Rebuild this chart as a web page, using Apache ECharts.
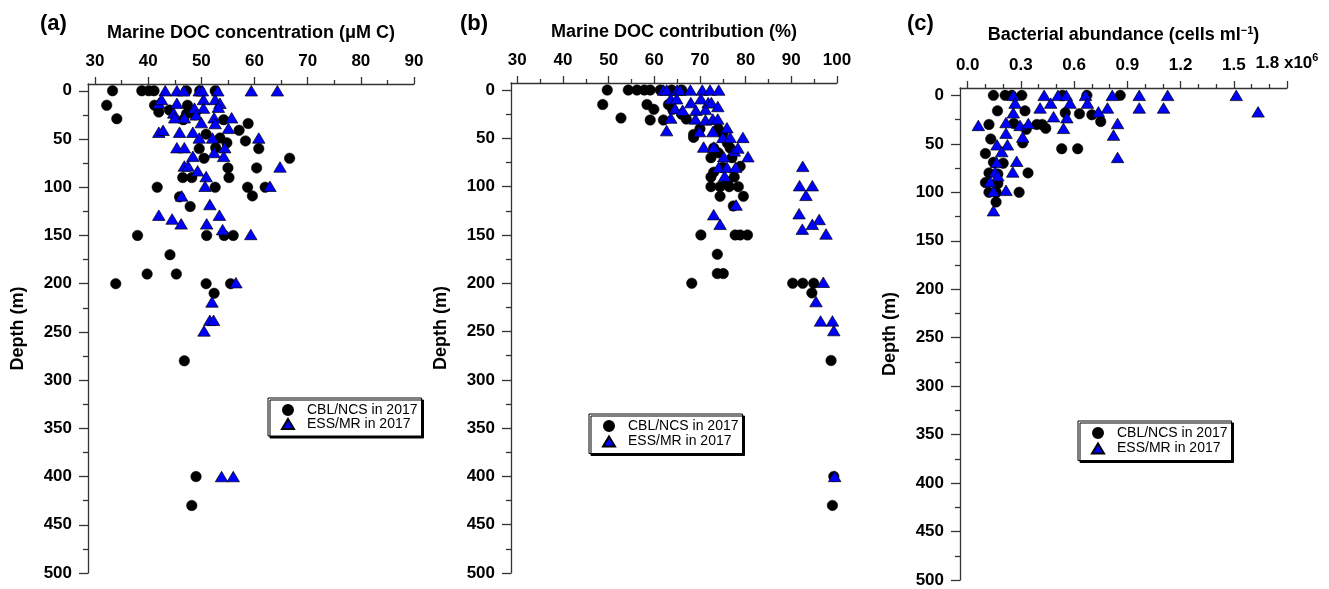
<!DOCTYPE html>
<html><head><meta charset="utf-8">
<script src="https://cdn.jsdelivr.net/npm/echarts@6/dist/echarts.min.js"></script>
<style>html,body{margin:0;padding:0;background:#fff}#c{width:1329px;height:589px}</style>
</head><body><div id="c"></div>
<script>
// ---------- DATA ----------
const seriesNames = ['CBL/NCS in 2017', 'ESS/MR in 2017'];
const panelLabels = ['(a)', '(b)', '(c)'];
const xTitles = ['Marine DOC concentration (\u03bcM C)', 'Marine DOC contribution (%)', 'Bacterial abundance (cells ml{s|\u22121})'];
const yTitle = 'Depth (m)';

const concTicks = [30, 40, 50, 60, 70, 80, 90];
const concMinor = [35, 45, 55, 65, 75, 85];
const contribTicks = [30, 40, 50, 60, 70, 80, 90, 100];
const contribMinor = [35, 45, 55, 65, 75, 85, 95];
const bactTicks = [0, 0.3, 0.6, 0.9, 1.2, 1.5, 1.8];
const bactMinor = [0.1, 0.2, 0.4, 0.5, 0.7, 0.8, 1.0, 1.1, 1.3, 1.4, 1.6, 1.7];
const depthTicks = [0, 50, 100, 150, 200, 250, 300, 350, 400, 450, 500];
const depthMinor = [25, 75, 125, 175, 225, 275, 325, 375, 425, 475];

// (a) Marine DOC concentration (uM C) vs depth (m)
const concCBL = [[33.3,0],[32.2,15],[34.1,29],[38.8,0],[40.1,0],[41.1,0],[47.2,0],[49.7,0],[52.6,0],[41.2,15],[42,22],[44,20],[47.4,15],[47.2,24],[48.8,25],[46.6,30],[54.2,30],[57.1,41],[58.8,34],[50.9,45],[53.5,49],[54.8,54],[58.3,52],[60.8,60],[49.6,60],[52.7,59],[50.5,70],[66.6,70],[60.4,80],[55,80],[55.2,90],[46.5,90],[48.2,90],[41.7,100],[52.6,100],[58.7,100],[62,100],[59.6,109],[45.9,110],[47.9,120],[38,150],[51,150],[54.3,150],[56,150],[44.1,170],[39.8,190],[45.3,190],[33.9,200],[50.9,200],[55.5,200],[52.4,210],[46.8,280],[49,400],[48.2,430]];
const concESS = [[43.2,0],[45.4,0],[46.7,0],[49.6,0],[50.2,0],[53.1,0],[59.4,0],[64.3,0],[42,13],[42.5,9],[45.4,13],[50.4,9],[52.6,9],[53.5,13],[50.4,18],[48.7,18],[53.2,17],[44.8,23],[46.8,28],[45,28],[49,25],[52.4,28],[50,33],[52.6,34],[55.7,28],[55.1,39],[42,43],[42.8,41],[45.9,43],[48.4,43],[49.6,49],[52.1,49],[60.8,49],[45.4,59],[46.8,59],[54.4,59],[52.4,64],[54.2,68],[48.4,68],[46.8,78],[47.5,78],[64.8,79],[49.3,83],[50.9,89],[50.7,99],[62.9,99],[46.3,109],[51.6,118],[42,129],[44.5,133],[46.2,138],[53.4,129],[51,138],[54,144],[59.3,149],[56.5,199],[52,219],[51.6,238],[52.3,238],[50.5,249],[53.8,400],[56,400]];

// (b) Marine DOC contribution (%) vs depth (m)
const contribCBL = [[49.7,0],[54.3,0],[56.2,0],[57.8,0],[59.1,0],[61.3,0],[63.8,0],[66,0],[48.7,15],[52.7,29],[58.4,15],[59.9,20],[59.1,31],[62,31],[63.1,15],[66,25],[64,20],[67,30],[68.6,46],[68.6,49],[70,40],[73,60],[72.4,70],[76.6,60],[74,40],[75,45],[76,55],[74,65],[77,70],[75,80],[73,85],[76,95],[78.8,79],[72.4,90],[77.5,90],[72.4,100],[74.4,100],[76.4,100],[78.4,100],[74.4,110],[79.5,110],[77.3,120],[70.2,150],[77.7,150],[78.8,150],[80.4,150],[73.8,170],[73.8,190],[75.1,190],[68.2,200],[90.3,200],[92.5,200],[94.9,200],[94.5,210],[98.7,280],[99.3,400],[99,430]];
const contribESS = [[62,0],[62.7,0],[65,0],[65.6,0],[67.9,0],[70.5,0],[72.2,0],[74.1,0],[63.6,9],[64.9,9],[68,13],[70.2,9],[71.8,13],[69.1,21],[71.2,20],[72.5,13],[73.9,17],[64.5,19],[66.2,21],[63.6,29],[62.7,42],[69,30],[69.9,43],[71.2,31],[72.8,30],[73.9,30],[72.8,43],[75.9,39],[75,49],[76.6,49],[79.4,49],[70.8,59],[73,59],[77.5,63],[78.3,60],[80.5,69],[75.2,69],[74.1,80],[75.9,80],[77.8,80],[75.4,89],[77.9,119],[73,129],[74.4,139],[92.5,79],[91.8,99],[94.6,99],[93.2,109],[91.7,128],[96.1,134],[94.6,139],[92.4,144],[97.6,149],[97,199],[95.4,219],[96.4,239],[99,239],[99.3,249],[99.5,400]];

// (c) Bacterial abundance (x10^6 cells/ml) vs depth (m)
const bactCBL = [[0.145,0],[0.211,0],[0.248,0],[0.305,0],[0.534,0],[0.672,0],[0.86,0],[0.168,16],[0.323,16],[0.55,18],[0.63,19],[0.70,20],[0.75,27],[0.12,30],[0.26,29],[0.39,30],[0.42,30],[0.44,34],[0.33,35],[0.13,45],[0.31,49],[0.53,55],[0.62,55],[0.10,60],[0.145,69],[0.2,70],[0.12,80],[0.17,81],[0.34,80],[0.10,90],[0.17,91],[0.12,100],[0.16,100],[0.29,100],[0.16,110]];
const bactESS = [[0.257,0],[0.431,0],[0.509,0],[0.556,0],[0.664,0],[0.815,0],[0.967,0],[1.127,0],[1.514,0],[1.637,17],[0.267,8],[0.468,8],[0.577,8],[0.675,8],[0.408,13],[0.257,18],[0.737,17],[0.788,13],[0.967,13],[1.104,13],[0.559,23],[0.484,22],[0.06,31],[0.216,28],[0.295,31],[0.342,29],[0.54,34],[0.845,29],[0.822,41],[0.216,39],[0.31,43],[0.165,51],[0.224,51],[0.192,58],[0.845,64],[0.276,68],[0.163,69],[0.254,79],[0.154,79],[0.17,83],[0.126,89],[0.145,99],[0.216,98],[0.145,119]];

// ---------- LAYOUT / STYLE ----------
const F = "'Liberation Sans', Arial, Helvetica, sans-serif";
const AX = '#333';
const grids = [
  {left: 88, top: 84, width: 326, height: 489},
  {left: 511, top: 83, width: 326, height: 490},
  {left: 960, top: 88, width: 327, height: 492}
];
const xRanges = [[28.68, 90], [28.62, 100], [-0.0434, 1.8]];
const yMins = [-7, -7.3, -7.6];
const xMajor = [concTicks, contribTicks, bactTicks];
const xMinorT = [concMinor, contribMinor, bactMinor];
const xFmt = [
  v => String(v),
  v => String(v),
  v => Math.abs(v - 1.8) < 1e-9 ? '1.8 {e|x10}{s|6}' : v.toFixed(1)
];
const legendPos = [[268, 398, 0], [589, 414, 1.5], [1078, 421, 1.5]];

const xAxes = [], yAxes = [];
for (let g = 0; g < 3; g++) {
  xAxes.push({
    type: 'value', gridIndex: g, position: 'top', min: xRanges[g][0], max: xRanges[g][1],
    name: xTitles[g], nameLocation: 'middle', nameGap: 42,
    nameTextStyle: {fontFamily: F, fontSize: 18, fontWeight: 'bold', color: '#000',
      rich: {s: {fontFamily: F, fontSize: 11, fontWeight: 'bold', color: '#000', padding: [0, 0, 10, 0]}}},
    axisLine: {show: true, onZero: false, lineStyle: {color: AX, width: 1.3}},
    axisTick: {show: true, inside: false, length: 7, customValues: xMajor[g], lineStyle: {color: AX, width: 1.3}},
    axisLabel: {show: true, margin: 14, customValues: xMajor[g], formatter: xFmt[g], hideOverlap: false,
      fontFamily: F, fontSize: 17, fontWeight: 'bold', color: '#000',
      rich: {e: {fontFamily: F, fontSize: 17, fontWeight: 'bold', color: '#000'},
             s: {fontFamily: F, fontSize: 11, fontWeight: 'bold', color: '#000', padding: [0, 0, 11, 0]}}},
    splitLine: {show: false}
  });
  xAxes.push({
    type: 'value', gridIndex: g, position: 'top', min: xRanges[g][0], max: xRanges[g][1],
    axisLine: {show: false, onZero: false},
    axisTick: {show: true, inside: false, length: 4, customValues: xMinorT[g], lineStyle: {color: AX, width: 1.3}},
    axisLabel: {show: false}, splitLine: {show: false}
  });
  yAxes.push({
    type: 'value', gridIndex: g, position: 'left', inverse: true, min: yMins[g], max: 500,
    name: yTitle, nameLocation: 'middle', nameRotate: 90, nameGap: 61,
    nameTextStyle: {fontFamily: F, fontSize: 18, fontWeight: 'bold', color: '#000'},
    axisLine: {show: true, onZero: false, lineStyle: {color: AX, width: 1.3}},
    axisTick: {show: true, inside: false, length: 9, customValues: depthTicks, lineStyle: {color: AX, width: 1.3}},
    axisLabel: {show: true, margin: 16, customValues: depthTicks, hideOverlap: false,
      fontFamily: F, fontSize: 17, fontWeight: 'bold', color: '#000'},
    splitLine: {show: false}
  });
  yAxes.push({
    type: 'value', gridIndex: g, position: 'left', inverse: true, min: yMins[g], max: 500,
    axisLine: {show: false, onZero: false},
    axisTick: {show: true, inside: false, length: 5, customValues: depthMinor, lineStyle: {color: AX, width: 1.3}},
    axisLabel: {show: false}, splitLine: {show: false}
  });
}

const panelData = [[concCBL, concESS], [contribCBL, contribESS], [bactCBL, bactESS]];
const series = [];
for (let g = 0; g < 3; g++) {
  series.push({
    name: seriesNames[0], type: 'scatter', xAxisIndex: 2 * g, yAxisIndex: 2 * g,
    data: panelData[g][0], symbol: 'circle', symbolSize: 10.5,
    itemStyle: {color: '#000', borderColor: '#000', borderWidth: 0.5, opacity: 1},
    emphasis: {disabled: true}, z: 2
  });
  series.push({
    name: seriesNames[1], type: 'scatter', xAxisIndex: 2 * g, yAxisIndex: 2 * g,
    data: panelData[g][1], symbol: 'triangle', symbolSize: [12.5, 10.5],
    itemStyle: {color: '#0000ff', borderColor: '#000', borderWidth: 0.7, opacity: 1},
    emphasis: {disabled: true}, z: 3
  });
}

const legends = legendPos.map(p => ({
  data: seriesNames, orient: 'vertical', left: p[0], top: p[1],
  padding: [5, 4, 5, 13], itemGap: p[2], itemWidth: 12, itemHeight: 10,
  textStyle: {fontFamily: F, fontSize: 14, color: '#000', lineHeight: 14, padding: [0, 0, 0, 8]},
  backgroundColor: '#fff', borderColor: '#000', borderWidth: 1, borderRadius: 0,
  shadowColor: '#000', shadowOffsetX: 2, shadowOffsetY: 2, shadowBlur: 0,
  selectedMode: false
}));

const labelPos = [[40, 13], [460, 13], [907, 13]];
const graphics = panelLabels.map((t, i) => ({
  type: 'text', left: labelPos[i][0], top: labelPos[i][1],
  style: {text: t, font: 'bold 22px ' + F, fill: '#000'}
}));

const chart = echarts.init(document.getElementById('c'), null, {renderer: 'canvas'});
chart.setOption({
  animation: false,
  backgroundColor: '#fff',
  grid: grids.map(g => Object.assign({containLabel: false, outerBoundsMode: 'none'}, g)),
  xAxis: xAxes,
  yAxis: yAxes,
  legend: legends,
  graphic: graphics,
  series: series
});
</script>
</body></html>
